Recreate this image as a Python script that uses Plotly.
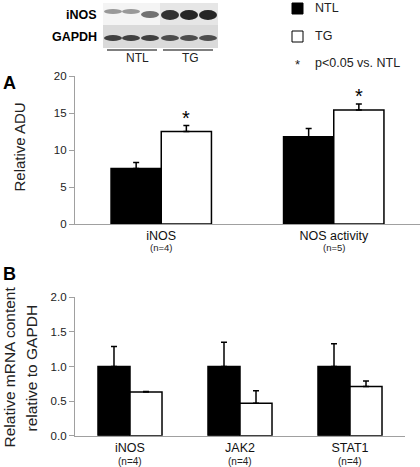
import plotly.graph_objects as go

W, H = 420, 467

# ---------------- data ----------------
cats_a = ["iNOS", "NOS activity"]
n_a = ["(n=4)", "(n=5)"]
ntl_a = [7.5, 11.8]
ntl_a_err = [0.8, 1.1]
tg_a = [12.5, 15.4]
tg_a_err = [0.8, 0.8]
sig_a = [True, True]

cats_b = ["iNOS", "JAK2", "STAT1"]
n_b = ["(n=4)", "(n=4)", "(n=4)"]
ntl_b = [1.0, 1.0, 1.0]
ntl_b_err = [0.29, 0.35, 0.33]
tg_b = [0.63, 0.47, 0.71]
tg_b_err = [0.01, 0.18, 0.08]

yticks_a = [0, 5, 10, 15, 20]
yticks_b = [0.0, 0.5, 1.0, 1.5, 2.0]

# western blot lane intensities (0 = blank, 1 = black)
blot_lanes = ["NTL", "NTL", "NTL", "TG", "TG", "TG"]
blot_inos = [0.4, 0.4, 0.55, 0.8, 0.85, 0.85]
blot_gapdh = [0.75, 0.75, 0.75, 0.7, 0.7, 0.7]

FONT = "Arial, Liberation Sans, sans-serif"


def px(x):
    return x / W


def py(y):
    return 1 - y / H


fig = go.Figure()

ebar = dict(type="data", symmetric=False, color="black", thickness=1.5, width=3)

# Panel A
fig.add_bar(x=cats_a, y=ntl_a, name="NTL", xaxis="x", yaxis="y",
            marker=dict(color="black", line=dict(color="black", width=1.5)),
            error_y=dict(array=ntl_a_err, arrayminus=[0] * len(ntl_a), **ebar),
            showlegend=False)
fig.add_bar(x=cats_a, y=tg_a, name="TG", xaxis="x", yaxis="y",
            marker=dict(color="white", line=dict(color="black", width=1.5)),
            error_y=dict(array=tg_a_err, arrayminus=[0] * len(tg_a), **ebar),
            showlegend=False)
# Panel B
fig.add_bar(x=cats_b, y=ntl_b, name="NTL", xaxis="x2", yaxis="y2",
            marker=dict(color="black", line=dict(color="black", width=1.5)),
            error_y=dict(array=ntl_b_err, arrayminus=[0] * len(ntl_b), **ebar),
            showlegend=False)
fig.add_bar(x=cats_b, y=tg_b, name="TG", xaxis="x2", yaxis="y2",
            marker=dict(color="white", line=dict(color="black", width=1.5)),
            error_y=dict(array=tg_b_err, arrayminus=[0] * len(tg_b), **ebar),
            showlegend=False)

line_common = dict(showline=True, linecolor="#a0a0a0", linewidth=1.2,
                   showgrid=False, zeroline=False)
ytick_font = dict(family=FONT, size=11.5, color="#222")
xtick_font = dict(family=FONT, size=12.5, color="#111")

fig.update_layout(
    width=W, height=H,
    margin=dict(l=0, r=0, t=0, b=0, autoexpand=False),
    paper_bgcolor="white", plot_bgcolor="white",
    barmode="group", bargap=0.418, bargroupgap=0,
    font=dict(family=FONT, color="black"),
    xaxis=dict(domain=[px(75), px(420)], anchor="y", ticks="", tickfont=xtick_font,
               **line_common),
    yaxis=dict(domain=[py(224), py(76)], anchor="x", range=[0, 20],
               tickvals=yticks_a, ticks="outside", ticklen=5, tickcolor="#a0a0a0",
               tickfont=ytick_font, **line_common),
    xaxis2=dict(domain=[px(75), px(405)], anchor="y2", ticks="", tickfont=xtick_font,
                **line_common),
    yaxis2=dict(domain=[py(435.7), py(297.3)], anchor="x2", range=[0, 2],
                tickvals=yticks_b, tickformat=".1f", ticks="outside", ticklen=5,
                tickcolor="#a0a0a0", tickfont=ytick_font, **line_common),
)


def txt(x, y, text, size, xanchor="center", color="#222", angle=0):
    return dict(x=px(x), y=py(y), xref="paper", yref="paper", text=text, showarrow=False,
                xanchor=xanchor, yanchor="middle", textangle=angle,
                font=dict(size=size, family=FONT, color=color))


ann = []
# n labels
for i, t in enumerate(n_a):
    ann.append(dict(x=i, y=py(247.5), xref="x", yref="paper", text=t, showarrow=False,
                    xanchor="center", yanchor="middle",
                    font=dict(size=9.5, family=FONT, color="#222")))
for i, t in enumerate(n_b):
    ann.append(dict(x=i, y=py(461.5), xref="x2", yref="paper", text=t, showarrow=False,
                    xanchor="center", yanchor="middle",
                    font=dict(size=10, family=FONT, color="#222")))
# significance asterisks above TG bars in A
tg_off = (1 - 0.418) / 4
for i, s in enumerate(sig_a):
    if s:
        ann.append(dict(x=i + tg_off, y=tg_a[i] + tg_a_err[i], xref="x", yref="y",
                        text="*", showarrow=False, xanchor="center", yanchor="bottom",
                        yshift=-5, font=dict(size=20, family=FONT, color="black")))
# panel letters
ann.append(txt(1, 83, "<b>A</b>", 18, "left", "black"))
ann.append(txt(1, 274, "<b>B</b>", 18, "left", "black"))
# y titles
ann.append(txt(19, 147.5, "Relative ADU", 15, angle=-90))
ann.append(txt(9, 367.5, "Relative mRNA content", 15.5, angle=-90))
ann.append(txt(31, 368.5, "relative to GAPDH", 15.5, angle=-90))
# legend text
ann.append(txt(313, 8, "NTL", 12.5, "left"))
ann.append(txt(313, 36, "TG", 12.5, "left"))
ann.append(txt(297, 64, "*", 13))
ann.append(txt(313, 63, "p<0.05 vs. NTL", 12.5, "left"))
# blot labels
ann.append(txt(99, 15, "<b>iNOS</b>", 12.5, "right", "black"))
ann.append(txt(99, 37, "<b>GAPDH</b>", 12.5, "right", "black"))
ann.append(txt(137, 58, "NTL", 12))
ann.append(txt(190, 58, "TG", 12))

shapes = []


def rect(x0, y0, x1, y1, fill, line=None, kind="rect"):
    return dict(type=kind, xref="paper", yref="paper", x0=px(x0), x1=px(x1),
                y0=py(y1), y1=py(y0), fillcolor=fill,
                line=dict(width=0 if line is None else 1, color=line or fill), layer="above")


# legend squares
shapes.append(rect(292, 3, 303, 14, "black", "black"))
shapes.append(rect(292, 31, 303, 42, "white", "black"))

# blot backgrounds
shapes.append(rect(103, 3, 218, 25, "#f4f4f4"))
shapes.append(rect(160, 3, 218, 25, "#e6e6e6"))
shapes.append(rect(103, 25, 218, 48, "#dadada"))
lane_x = [113, 131, 150, 170, 189, 208]


def gray(v):
    g = int(255 * (1 - v))
    return f"rgb({g},{g},{g})"


for i, lx in enumerate(lane_x):
    v = blot_inos[i]
    if blot_lanes[i] == "NTL":
        y0, y1 = (9, 14) if i < 2 else (11, 18)
    else:
        y0, y1 = (10, 20)
    shapes.append(rect(lx - 9, y0, lx + 9, y1, gray(v), kind="circle"))
    shapes.append(rect(lx - 9, 35, lx + 9, 41, gray(blot_gapdh[i]), kind="circle"))

shapes.append(dict(type="line", xref="paper", yref="paper", x0=px(107), x1=px(157),
                   y0=py(50), y1=py(50), line=dict(color="black", width=1)))
shapes.append(dict(type="line", xref="paper", yref="paper", x0=px(163), x1=px(213),
                   y0=py(50), y1=py(50), line=dict(color="black", width=1)))

fig.update_layout(annotations=ann, shapes=shapes)
fig.write_html("out.html", config={"displayModeBar": False},
               post_script="document.body.style.margin='0px';document.body.style.overflow='hidden';")
